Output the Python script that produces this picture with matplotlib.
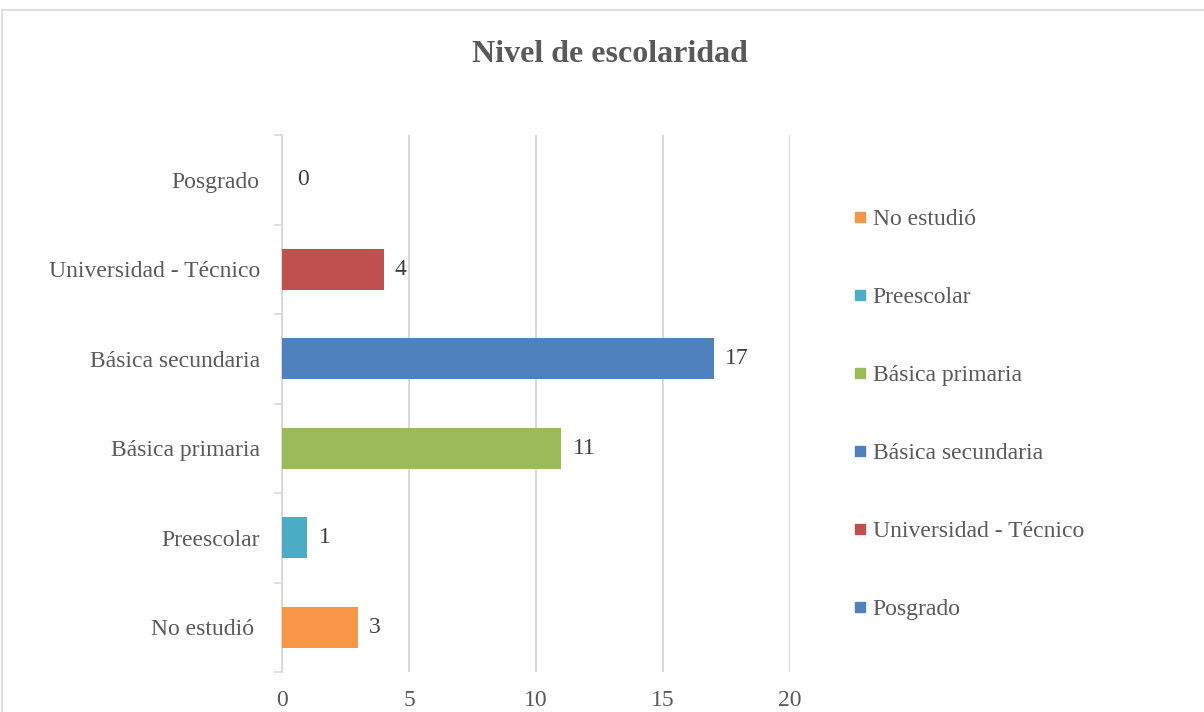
import numpy as np
import matplotlib.pyplot as plt
from matplotlib.lines import Line2D
from matplotlib.patches import Rectangle

# datos
categorias = ["No estudió ", "Preescolar", "Básica primaria", "Básica secundaria",
              "Universidad - Técnico", "Posgrado"]
valores = [3, 1, 11, 17, 4, 0]
colores = ["#F79646", "#4BACC6", "#9BBB59", "#4F81BD", "#C0504D", "#4F81BD"]
ticks_x = [0, 5, 10, 15, 20]

plt.rcParams["font.family"] = ["Liberation Serif", "DejaVu Serif"]
gris = "#595959"

fig = plt.figure(figsize=(12.04, 7.12), dpi=100)
# marco del grafico
fig.patches.append(Rectangle((2/1204, -0.1), 1.1, 1.1 - 10/712, transform=fig.transFigure,
                             fill=False, edgecolor="#D9D9D9", linewidth=1.2))

ax = fig.add_axes([282/1204, 1-672/712, 508/1204, 537/712])
y = np.arange(len(categorias))
ax.barh(y, valores, height=0.46, color=colores, zorder=3)
for yi, v in zip(y, valores):
    ax.annotate(str(v), (v, yi), xytext=(8 if v else 11, 0), textcoords="offset points",
                va="center", ha="left", fontsize=17, color="#404040")

ax.set_xlim(0, 20)
ax.set_ylim(-0.5, len(categorias) - 0.5)
ax.set_xticks(ticks_x)
ax.set_yticks(y)
ax.set_yticklabels(categorias)
ax.set_yticks(np.arange(-0.5, len(categorias)), minor=True)
ax.tick_params(axis="y", which="major", length=0, pad=16, labelsize=17, labelcolor=gris)
ax.tick_params(axis="y", which="minor", length=6, width=1.2, color="#D9D9D9")
ax.tick_params(axis="x", length=0, pad=13, labelsize=17, labelcolor=gris)
ax.grid(axis="x", color="#D9D9D9", linewidth=1.5, zorder=0)
for s in ["top", "right", "bottom"]:
    ax.spines[s].set_visible(False)
ax.spines["left"].set_color("#D9D9D9")
ax.spines["left"].set_linewidth(1.5)

fig.text(610/1204, 1-54/712, "Nivel de escolaridad", ha="center", va="center",
         fontsize=23, fontweight="bold", color=gris)

# leyenda
manejadores = [Line2D([], [], marker="s", linestyle="none", markersize=6.5,
                      markerfacecolor=c, markeredgecolor=c) for c in colores]
fig.legend(manejadores, [c.strip() for c in categorias], loc="upper left",
           bbox_to_anchor=(843/1204, 1-199/712), frameon=False, fontsize=17,
           labelcolor=gris, handlelength=0.6, handletextpad=0.25, labelspacing=2.39,
           borderaxespad=0)

fig.savefig("out.png", dpi=100)
